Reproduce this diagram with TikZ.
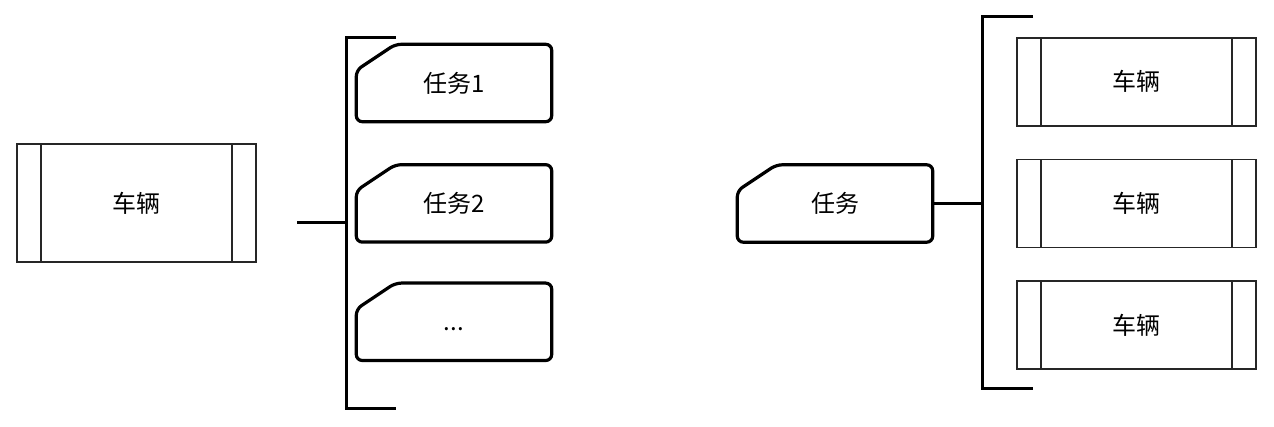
\documentclass[tikz,border=0pt]{standalone}
\usepackage{fontspec}
\newfontfamily\cjk{Noto Sans CJK SC}
\usetikzlibrary{positioning}

\begin{document}
\begin{tikzpicture}[
  x=1pt, y=1pt,
  every node/.style={font=\cjk\fontsize{24}{28}\selectfont, inner sep=0pt, align=center},
  vehicle/.style={draw=black!85, line width=1.8pt, minimum width=239pt, minimum height=88pt,
    path picture={
      \draw[black!85, line width=1.8pt] ([xshift=24pt]path picture bounding box.north west) -- ([xshift=24pt]path picture bounding box.south west);
      \draw[black!85, line width=1.8pt] ([xshift=-24pt]path picture bounding box.north east) -- ([xshift=-24pt]path picture bounding box.south east);
    }},
  task/.style={minimum width=195pt, minimum height=77pt},
  taskline/.style={draw, line width=3.2pt, rounded corners=6pt},
  brace/.style={line width=3pt},
  node distance=43pt and 32pt
]
\useasboundingbox (0,0) rectangle (1274,426);

% Left: one vehicle, many tasks
\node (v)  [vehicle, minimum height=118pt] at (136.5,223) {车辆};
\node (t1) [task] at (454,343)  {任务1};
\node (t2) [task, below=of t1]  {任务2};
\node (t3) [task, below=41pt of t2] {\vphantom{任}...};

\coordinate (lbrtop) at (396,388);
\coordinate (lbrbot) at (396,18);
\coordinate (lstub)  at (297,203);
\coordinate (lspine) at (346,203);
\draw[brace] (lbrtop) -- ++(-50,0) |- (lbrbot);
\draw[brace] (lstub) -- (lspine);

% Right: one task, many vehicles
\node (t)  [task] at (835,222.5) {任务};
\node (v2) [vehicle] at (1136.5,222.5) {车辆};
\node (v1) [vehicle, above=32pt of v2] {车辆};
\node (v3) [vehicle, below=32pt of v2] {车辆};

\coordinate (rbrtop) at (1033,409);
\coordinate (rbrbot) at (1033,38);
\coordinate (rspine) at (982,222.5);
\draw[brace] (rbrtop) -- ++(-51,0) |- (rbrbot);
\draw[brace] (t.east) -- (rspine);

% Task cards with a cut corner
\foreach \n in {t1,t2,t3,t}
  \draw[taskline] ([yshift=-26pt]\n.north west) -- ([xshift=39pt]\n.north west)
    -- (\n.north east) -- (\n.south east) -- (\n.south west) -- cycle;

\end{tikzpicture}
\end{document}
